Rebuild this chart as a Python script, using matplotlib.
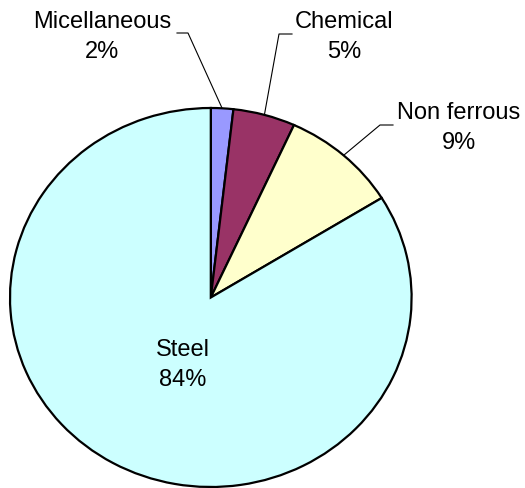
import matplotlib
matplotlib.use('Agg')
import matplotlib.pyplot as plt
from matplotlib.lines import Line2D
import numpy as np

plt.rcParams['font.family'] = ['Liberation Sans', 'DejaVu Sans']

# data
categories = ['Micellaneous', 'Chemical', 'Non ferrous', 'Steel']
shares = [1.8, 5.0, 9.4, 83.8]
colors = ['#9999FF', '#993366', '#FFFFCC', '#CCFFFF']

W, H = 525, 488
fig = plt.figure(figsize=(W / 100, H / 100), dpi=100)
ax = fig.add_axes([10.0 / W, 1.0 / H, 401.6 / W, 379.0 / H])
wedges, _ = ax.pie(shares, colors=colors, startangle=90, counterclock=False,
                   wedgeprops=dict(edgecolor='black', linewidth=1.6))
ax.set_aspect('auto')
ax.set_xlim(-1, 1)
ax.set_ylim(-1, 1)
for w in wedges:
    w.set_clip_on(False)


def fpx(x, y):
    # pixel from top-left -> figure fraction
    return x / W, 1 - y / H


# label centre, elbow and end of leader line (pixels, from top-left)
label_pos = {
    'Micellaneous': ((102, 37), (188, 33), (177, 33)),
    'Chemical': ((344, 37), (279, 34), (292, 34)),
    'Non ferrous': ((459, 128), (380, 125), (393, 125)),
    'Steel': ((183, 365), None, None),
}

fig.canvas.draw()
for w, name, s in zip(wedges, categories, shares):
    (cx, cy), elbow, end = label_pos[name]
    fig.text(*fpx(cx, cy), f'{name}\n{round(s)}%', ha='center', va='center',
             fontsize=17, linespacing=1.43, color='black')
    if elbow is None:
        continue
    mid = np.deg2rad((w.theta1 + w.theta2) / 2)
    ex, ey = ax.transData.transform((np.cos(mid), np.sin(mid)))
    xs = [ex / W, elbow[0] / W, end[0] / W]
    ys = [ey / H, 1 - elbow[1] / H, 1 - end[1] / H]
    fig.add_artist(Line2D(xs, ys, transform=fig.transFigure, color='black', lw=0.8))

fig.savefig('out.png', dpi=100)
